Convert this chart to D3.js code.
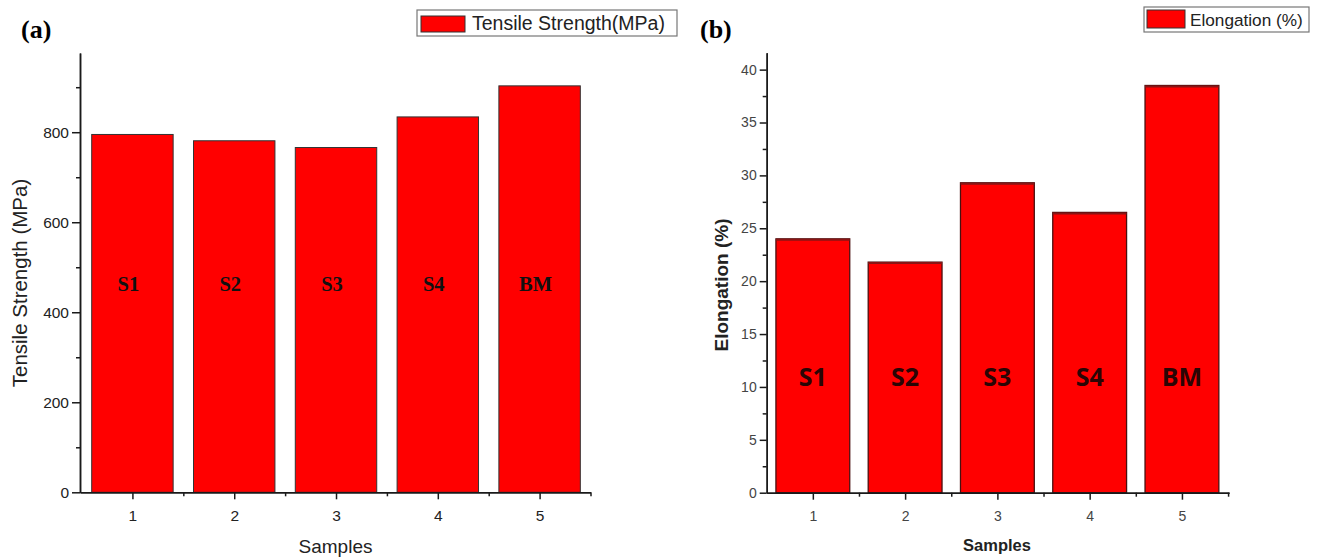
<!DOCTYPE html>
<html>
<head>
<meta charset="utf-8">
<script src="https://cdn.jsdelivr.net/npm/d3@7"></script>
<style>
  body { margin: 0; background: #fff; }
  svg { display: block; }
  .axis path, .axis line { stroke: #1a1a1a; stroke-width: 1.5; }
</style>
</head>
<body>
<svg id="chart" width="1320" height="557"></svg>
<script>
var samples = [1, 2, 3, 4, 5],
    sampleNames = ["S1", "S2", "S3", "S4", "BM"];

var tensile = [795, 781, 766, 834, 903],
    tensileTicks = [0, 200, 400, 600, 800],
    tensileMinor = [100, 300, 500, 700, 900];

var elongation = [24.0, 21.8, 29.3, 26.5, 38.5],
    elongTicks = [0, 5, 10, 15, 20, 25, 30, 35, 40],
    elongMinor = [2.5, 7.5, 12.5, 17.5, 22.5, 27.5, 32.5, 37.5];

var sampleMinor = [1.5, 2.5, 3.5, 4.5, 5.5];

var svg = d3.select("svg#chart");
var sans = "Liberation Sans, Arial, sans-serif",
    serif = "Liberation Serif, Times New Roman, serif";

// ---------- (a) tensile strength ----------
var xa = d3.scaleLinear().domain([0.485, 5.5]).range([80, 590.5]),
    ya = d3.scaleLinear().domain([0, 976]).range([492.3, 53]);

var ga = svg.append("g");

ga.selectAll("rect.bar")
  .data(samples)
  .enter().append("rect")
    .attr("class", "bar")
    .attr("x", function(d) { return xa(d - 0.4); })
    .attr("width", function(d) { return xa(d + 0.4) - xa(d - 0.4); })
    .attr("y", function(d, i) { return ya(tensile[i]); })
    .attr("height", function(d, i) { return ya(0) - ya(tensile[i]); })
    .attr("fill", "#ff0000")
    .attr("stroke", "#333")
    .attr("stroke-width", 1);

ga.selectAll("text.lab")
  .data(samples)
  .enter().append("text")
    .attr("x", function(d) { return xa(d) - 4; })
    .attr("y", 291)
    .attr("text-anchor", "middle")
    .attr("font-family", serif)
    .attr("font-weight", "bold")
    .attr("font-size", 20.5)
    .attr("fill", "#111")
    .text(function(d, i) { return sampleNames[i]; });

ga.append("g")
    .attr("class", "axis")
    .attr("transform", "translate(80,0)")
    .call(d3.axisLeft(ya).tickValues(tensileMinor).tickSize(4).tickSizeOuter(0).tickFormat(""));
ga.append("g")
    .attr("class", "axis")
    .attr("transform", "translate(80,0)")
    .call(d3.axisLeft(ya).tickValues(tensileTicks).tickSize(8).tickSizeOuter(0).tickFormat(d3.format("d")))
    .selectAll("text")
    .attr("font-family", sans)
    .attr("font-size", 15.5)
    .attr("fill", "#222");

ga.append("g")
    .attr("class", "axis")
    .attr("transform", "translate(0,492.3)")
    .call(d3.axisBottom(xa).tickValues(sampleMinor).tickSize(4).tickSizeOuter(0).tickFormat(""));
ga.append("g")
    .attr("class", "axis")
    .attr("transform", "translate(0,492.3)")
    .call(d3.axisBottom(xa).tickValues(samples).tickSize(7).tickSizeOuter(0).tickFormat(d3.format("d")))
    .selectAll("text")
    .attr("dy", "1.2em")
    .attr("font-family", sans)
    .attr("font-size", 15.5)
    .attr("fill", "#222");

ga.append("text")
    .attr("transform", "translate(27,283) rotate(-90)")
    .attr("text-anchor", "middle")
    .attr("font-family", sans)
    .attr("font-size", 20.5)
    .attr("fill", "#222")
    .text("Tensile Strength (MPa)");

ga.append("text")
    .attr("x", 335.5).attr("y", 553)
    .attr("text-anchor", "middle")
    .attr("font-family", sans)
    .attr("font-size", 19)
    .attr("fill", "#222")
    .text("Samples");

ga.append("text")
    .attr("x", 21).attr("y", 38)
    .attr("font-family", serif)
    .attr("font-weight", "bold")
    .attr("font-size", 26)
    .text("(a)");

var lega = ga.append("g");
lega.append("rect")
    .attr("x", 417).attr("y", 10).attr("width", 260).attr("height", 26)
    .attr("fill", "#fff").attr("stroke", "#777").attr("stroke-width", 1.2);
lega.append("rect")
    .attr("x", 421).attr("y", 16).attr("width", 44).attr("height", 16)
    .attr("fill", "#ff0000").attr("stroke", "#333");
lega.append("text")
    .attr("x", 472).attr("y", 30)
    .attr("font-family", sans)
    .attr("font-size", 19.5)
    .attr("fill", "#222")
    .text("Tensile Strength(MPa)");

// ---------- (b) elongation ----------
var xb = d3.scaleLinear().domain([0.5, 5.51]).range([766.7, 1229]),
    yb = d3.scaleLinear().domain([0, 41.6]).range([492.7, 52.7]);

var gb = svg.append("g");

gb.selectAll("rect.bar")
  .data(samples)
  .enter().append("rect")
    .attr("class", "bar")
    .attr("x", function(d) { return xb(d - 0.4); })
    .attr("width", function(d) { return xb(d + 0.4) - xb(d - 0.4); })
    .attr("y", function(d, i) { return yb(elongation[i]); })
    .attr("height", function(d, i) { return yb(0) - yb(elongation[i]); })
    .attr("fill", "#ff0000")
    .attr("stroke", "#4a1010")
    .attr("stroke-width", 1.3);

// darker top edge on the elongation bars
gb.selectAll("line.top")
  .data(samples)
  .enter().append("line")
    .attr("class", "top")
    .attr("x1", function(d) { return xb(d - 0.4); })
    .attr("x2", function(d) { return xb(d + 0.4); })
    .attr("y1", function(d, i) { return yb(elongation[i]) + 1; })
    .attr("y2", function(d, i) { return yb(elongation[i]) + 1; })
    .attr("stroke", "#8a1515")
    .attr("stroke-width", 2);

gb.selectAll("text.lab")
  .data(samples)
  .enter().append("text")
    .attr("x", function(d) { return xb(d); })
    .attr("y", 386)
    .attr("text-anchor", "middle")
    .attr("font-family", "Open Sans, sans-serif")
    .attr("font-weight", "bold")
    .attr("font-size", 25)
    .attr("fill", "#2a0505")
    .text(function(d, i) { return sampleNames[i]; });

gb.append("g")
    .attr("class", "axis")
    .attr("transform", "translate(766.7,0)")
    .call(d3.axisLeft(yb).tickValues(elongMinor).tickSize(4).tickSizeOuter(0).tickFormat(""));
gb.append("g")
    .attr("class", "axis")
    .attr("transform", "translate(766.7,0)")
    .call(d3.axisLeft(yb).tickValues(elongTicks).tickSize(7).tickSizeOuter(0).tickFormat(d3.format("d")))
    .selectAll("text")
    .attr("font-family", sans)
    .attr("font-size", 14)
    .attr("fill", "#444");

gb.append("g")
    .attr("class", "axis")
    .attr("transform", "translate(0,492.7)")
    .call(d3.axisBottom(xb).tickValues(sampleMinor).tickSize(4).tickSizeOuter(0).tickFormat(""));
gb.append("g")
    .attr("class", "axis")
    .attr("transform", "translate(0,492.7)")
    .call(d3.axisBottom(xb).tickValues(samples).tickSize(7).tickSizeOuter(0).tickFormat(d3.format("d")))
    .selectAll("text")
    .attr("dy", "1.3em")
    .attr("font-family", sans)
    .attr("font-size", 14)
    .attr("fill", "#444");

gb.append("text")
    .attr("transform", "translate(728,285) rotate(-90)")
    .attr("text-anchor", "middle")
    .attr("font-family", sans)
    .attr("font-weight", "bold")
    .attr("font-size", 19)
    .attr("fill", "#222")
    .text("Elongation (%)");

gb.append("text")
    .attr("x", 997).attr("y", 551)
    .attr("text-anchor", "middle")
    .attr("font-family", sans)
    .attr("font-weight", "bold")
    .attr("font-size", 16.5)
    .attr("fill", "#222")
    .text("Samples");

gb.append("text")
    .attr("x", 700).attr("y", 38)
    .attr("font-family", serif)
    .attr("font-weight", "bold")
    .attr("font-size", 26)
    .text("(b)");

var legb = gb.append("g");
legb.append("rect")
    .attr("x", 1144).attr("y", 7).attr("width", 165).attr("height", 25)
    .attr("fill", "#fff").attr("stroke", "#777").attr("stroke-width", 1.2);
legb.append("rect")
    .attr("x", 1147).attr("y", 10).attr("width", 38).attr("height", 18)
    .attr("fill", "#ff0000").attr("stroke", "#333");
legb.append("text")
    .attr("x", 1190).attr("y", 26)
    .attr("font-family", sans)
    .attr("font-size", 17.2)
    .attr("fill", "#222")
    .text("Elongation (%)");
</script>
</body>
</html>
